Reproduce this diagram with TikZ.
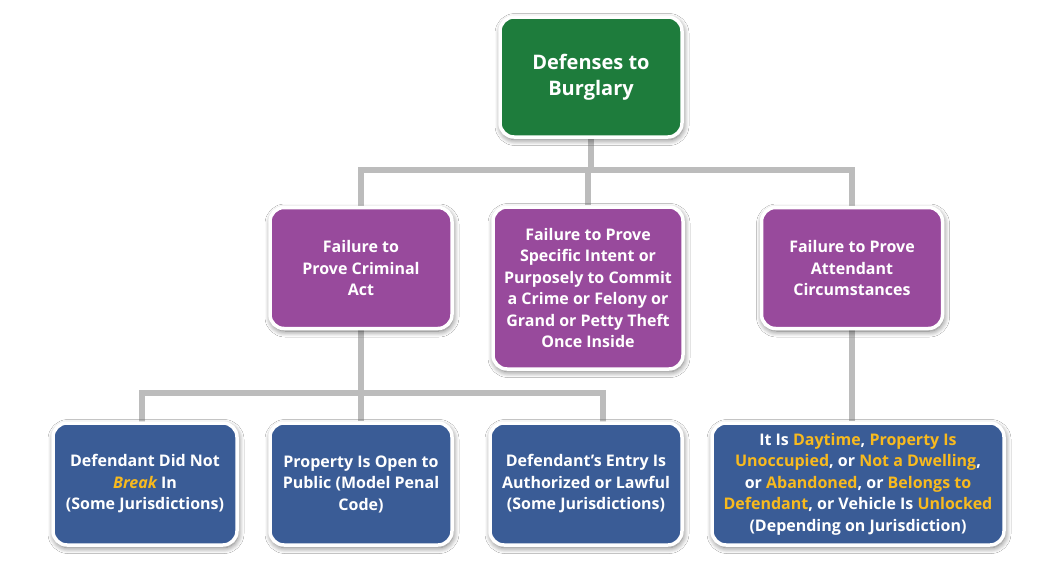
\documentclass[tikz,border=0pt]{standalone}
\usepackage{fontspec}
\setmainfont{Open Sans}
\usetikzlibrary{shadows.blur,backgrounds}
\definecolor{rootgreen}{RGB}{30,124,60}
\definecolor{midpurple}{RGB}{152,74,156}
\definecolor{lowblue}{RGB}{58,92,150}
\definecolor{hlyellow}{RGB}{248,186,30}
\definecolor{conngray}{RGB}{188,188,188}
\newcommand\hl[1]{\textcolor{hlyellow}{#1}}
\tikzset{
  boxbase/.style={rectangle, rounded corners=14pt, draw=white, line width=3.5pt,
    text=white, align=center, font=\bfseries\fontsize{16}{21.5}\selectfont,
    inner sep=4pt,
    blur shadow={shadow xshift=1pt, shadow yshift=-2.5pt, shadow blur radius=6pt, shadow blur steps=8, shadow opacity=60}},
  rootbox/.style={boxbase, fill=rootgreen, font=\bfseries\fontsize{20}{26}\selectfont},
  midbox/.style={boxbase, fill=midpurple},
  lowbox/.style={boxbase, fill=lowblue},
  conn/.style={draw=conngray, line width=6pt},
}
\begin{document}
\begin{tikzpicture}[x=1pt,y=-1pt]
\useasboundingbox (0,0) rectangle (1050,563);
\node[rootbox, minimum width=182pt, minimum height=120pt] (root) at (591,77) {Defenses to\\Burglary};
\node[midbox, minimum width=182pt, minimum height=121pt] (m1) at (361,268) {Failure to\\Prove Criminal\\Act};
\node[midbox, minimum width=190pt, minimum height=162pt] (m2) at (588,288) {Failure to Prove\\Specific Intent or\\Purposely to Commit\\a Crime or Felony or\\Grand or Petty Theft\\Once Inside};
\node[midbox, minimum width=181pt, minimum height=121pt] (m3) at (852,268) {Failure to Prove\\Attendant\\Circumstances};
\node[lowbox, minimum width=184pt, minimum height=122pt] (b1) at (145,484) {Defendant Did Not\\\hl{\itshape Break} In\\(Some Jurisdictions)};
\node[lowbox, minimum width=182pt, minimum height=122pt] (b2) at (361,484) {Property Is Open to\\Public (Model Penal\\Code)};
\node[lowbox, minimum width=192pt, minimum height=122pt] (b3) at (586,484) {Defendant’s Entry Is\\Authorized or Lawful\\(Some Jurisdictions)};
\node[lowbox, minimum width=292pt, minimum height=122pt] (b4) at (858,484) {It Is \hl{Daytime}, \hl{Property Is}\\\hl{Unoccupied}, or \hl{Not a Dwelling},\\or \hl{Abandoned}, or \hl{Belongs to}\\\hl{Defendant}, or Vehicle Is \hl{Unlocked}\\(Depending on Jurisdiction)};
\coordinate (j1) at (591,170);
\coordinate (j2) at (361,393);
\coordinate (d1) at (142,423);
\coordinate (d3) at (603,423);
\begin{scope}[on background layer]
\fill[white] (0,0) rectangle (1050,563);
\draw[conn] (root.south) -- (j1);
\draw[conn] (m1.north) |- (j1) -| (m3.north);
\draw[conn] (m2.north) -- (m2.north |- j1);
\draw[conn] (m1.south) -- (j2);
\draw[conn] (d1) |- (j2) -| (d3);
\draw[conn] (b2.north) -- (j2);
\draw[conn] (m3.south) -- (m3.south |- b4.north);
\end{scope}
\end{tikzpicture}
\end{document}
